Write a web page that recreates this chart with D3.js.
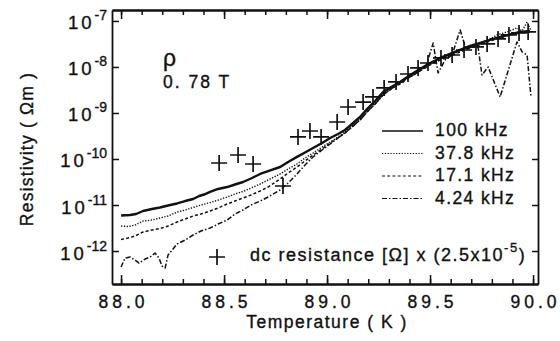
<!DOCTYPE html>
<html><head><meta charset="utf-8">
<script src="https://cdn.jsdelivr.net/npm/d3@7"></script>
<style>
body{margin:0;background:#fff}
svg{display:block}
text{font-family:"Liberation Sans",Arial,Helvetica,sans-serif;fill:#111;stroke:#111;stroke-width:0.35px}
</style>
</head><body>
<svg id="c" width="560" height="341"></svg>
<script>
// ---- data ----
const t100 = [88.000,88.044,88.073,88.107,88.150,88.189,88.228,88.272,88.311,88.350,88.379,88.403,88.432,88.471,88.515,88.553,88.592,88.631,88.675,88.714,88.772,88.811,88.854,88.893,88.932,88.976,89.015,89.053,89.087,89.121,89.160,89.194,89.233,89.272,89.311,89.354,89.403,89.451,89.500,89.549,89.597,89.646,89.694,89.743,89.791,89.840,89.888,89.937,89.985];
const r100 = [5.91e-12,6.06e-12,6.37e-12,7.41e-12,8.18e-12,8.83e-12,9.75e-12,1.08e-11,1.22e-11,1.35e-11,1.57e-11,1.69e-11,1.92e-11,2.23e-11,2.46e-11,2.79e-11,3.16e-11,3.77e-11,4.72e-11,5.48e-11,6.70e-11,8.61e-11,1.11e-10,1.38e-10,1.73e-10,2.23e-10,2.86e-10,3.50e-10,4.27e-10,5.77e-10,8.18e-10,1.22e-9,1.82e-9,2.86e-9,3.67e-9,4.72e-9,6.70e-9,9.05e-9,1.22e-8,1.57e-8,1.92e-8,2.34e-8,2.86e-8,3.32e-8,3.86e-8,4.49e-8,5.09e-8,5.77e-8,6.06e-8];

const t378 = [88.000,88.034,88.068,88.107,88.150,88.189,88.228,88.272,88.311,88.350,88.388,88.432,88.471,88.515,88.553,88.592,88.631,88.675,88.714,88.772,88.811,88.854,88.893,88.932,88.976,89.015,89.053,89.087,89.121,89.160,89.194,89.233,89.272,89.311,89.354,89.403,89.451,89.500,89.549,89.597,89.646,89.694,89.743,89.791,89.825,89.874,89.922,89.947,89.971,89.995];
const r378 = [3.50e-12,3.41e-12,3.67e-12,4.49e-12,4.72e-12,5.22e-12,5.77e-12,7.04e-12,7.79e-12,8.83e-12,1.00e-11,1.13e-11,1.28e-11,1.49e-11,1.73e-11,1.97e-11,2.34e-11,2.86e-11,3.50e-11,4.72e-11,6.06e-11,7.79e-11,1.05e-10,1.35e-10,1.82e-10,2.34e-10,3.01e-10,3.86e-10,5.22e-10,7.41e-10,1.11e-9,1.65e-9,2.59e-9,3.50e-9,4.49e-9,6.37e-9,8.61e-9,1.16e-8,1.49e-8,1.82e-8,2.23e-8,2.72e-8,3.32e-8,4.06e-8,4.96e-8,5.77e-8,7.04e-8,6.06e-8,9.51e-8,5.48e-8];

const t171 = [88.000,88.034,88.068,88.107,88.150,88.189,88.228,88.272,88.311,88.350,88.388,88.432,88.471,88.515,88.553,88.592,88.631,88.675,88.714,88.772,88.811,88.854,88.893,88.932,88.976,89.015,89.053,89.087,89.121,89.160,89.194,89.233,89.272,89.311,89.354,89.403,89.451,89.500,89.549,89.597,89.646,89.694,89.743,89.791,89.840,89.888,89.937,89.985];
const r171 = [1.78e-12,1.92e-12,2.12e-12,2.59e-12,2.86e-12,3.08e-12,3.50e-12,4.27e-12,4.96e-12,5.77e-12,6.37e-12,7.41e-12,8.61e-12,1.05e-11,1.22e-11,1.42e-11,1.65e-11,2.02e-11,2.46e-11,3.67e-11,4.96e-11,6.70e-11,9.05e-11,1.22e-10,1.65e-10,2.23e-10,2.86e-10,3.67e-10,4.96e-10,7.04e-10,1.05e-9,1.57e-9,2.46e-9,3.32e-9,4.27e-9,6.06e-9,8.18e-9,1.11e-8,1.42e-8,1.73e-8,2.12e-8,2.59e-8,3.01e-8,3.67e-8,4.27e-8,4.96e-8,5.48e-8,5.77e-8];

const t424 = [88.000,88.019,88.044,88.068,88.087,88.117,88.141,88.165,88.184,88.199,88.214,88.228,88.248,88.272,88.311,88.350,88.388,88.432,88.471,88.515,88.553,88.592,88.631,88.675,88.714,88.772,88.811,88.854,88.893,88.932,88.976,89.015,89.053,89.087,89.121,89.160,89.194,89.233,89.272,89.311,89.354,89.403,89.451,89.481,89.515,89.539,89.573,89.607,89.646,89.675,89.704,89.733,89.752,89.782,89.840,89.922,89.947,89.971,89.990];
const r424 = [4.49e-13,7.04e-13,7.41e-13,6.37e-13,5.48e-13,6.70e-13,7.41e-13,9.05e-13,7.04e-13,4.72e-13,4.27e-13,8.18e-13,1.05e-12,1.42e-12,1.73e-12,2.23e-12,2.72e-12,3.16e-12,3.86e-12,4.72e-12,6.37e-12,7.79e-12,1.00e-11,1.22e-11,1.49e-11,2.12e-11,3.01e-11,4.72e-11,7.41e-11,1.11e-10,1.57e-10,2.12e-10,2.86e-10,3.67e-10,4.96e-10,7.04e-10,1.05e-9,1.57e-9,2.46e-9,3.32e-9,4.49e-9,6.06e-9,8.18e-9,1.05e-8,3.32e-8,7.41e-9,1.42e-8,1.82e-8,6.37e-8,2.46e-8,2.72e-8,2.72e-8,6.70e-9,1.00e-8,2.23e-9,3.50e-8,2.12e-8,1.82e-8,2.23e-9];

// dc resistance x 2.5e-5 (plotted as resistivity)
const tDC = [88.476,88.568,88.641,88.786,88.859,88.917,88.971,89.049,89.102,89.175,89.223,89.277,89.335,89.393,89.442,89.490,89.553,89.607,89.665,89.723,89.777,89.830,89.883,89.932,89.976];
const rDC = [8.18e-11,1.22e-10,7.79e-11,2.59e-11,3.01e-10,4.06e-10,3.01e-10,6.37e-10,1.35e-9,1.73e-9,2.23e-9,3.50e-9,4.72e-9,7.04e-9,9.51e-9,1.22e-8,1.57e-8,1.82e-8,2.34e-8,2.72e-8,3.16e-8,4.06e-8,4.96e-8,5.48e-8,5.77e-8];

const seriesNames = ["100 kHz","37.8 kHz","17.1 kHz","4.24 kHz"];
const xTicksMajor = [88.0,88.5,89.0,89.5,90.0];
const xTicksMinor = d3.range(0,21).map(i => 88 + i*0.1);
const yTicks = [1e-12,1e-11,1e-10,1e-9,1e-8,1e-7];
const yTickExp = ["-12","-11","-10","-9","-8","-7"];

// ---- layout ----
const L = 112, R = 538, T = 10, B = 284;
const svg = d3.select("#c");
const x = d3.scaleLinear().domain([87.956, 90.024]).range([L, R]);
const y = d3.scaleLog().domain([1.92e-13, 1.73e-7]).range([B, T]);

const series = [
  {name: seriesNames[0], t: t100, r: r100, w: 2.4, dash: null},
  {name: seriesNames[1], t: t378, r: r378, w: 1.4, dash: "1.3,1.5"},
  {name: seriesNames[2], t: t171, r: r171, w: 1.5, dash: "3,2.2"},
  {name: seriesNames[3], t: t424, r: r424, w: 1.5, dash: "5,2,1.5,2"}
];

// axes
const axStyle = g => {
  g.select(".domain").attr("stroke","#111").attr("stroke-width",1.8);
  g.selectAll(".tick line").attr("stroke","#111").attr("stroke-width",1.5);
};
svg.append("g").attr("transform",`translate(0,${B})`)
  .call(d3.axisBottom(x).tickValues(xTicksMinor).tickSizeInner(-5).tickSizeOuter(0).tickFormat(""))
  .call(axStyle);
const gb = svg.append("g").attr("transform",`translate(0,${B})`)
  .call(d3.axisBottom(x).tickValues(xTicksMajor).tickSizeInner(-9).tickSizeOuter(0).tickPadding(12).tickFormat(d3.format(".1f")))
  .call(axStyle);
gb.selectAll(".tick text").attr("font-size",17.5).attr("letter-spacing","4px").attr("dx","2px")
  .style("font-family",'"Liberation Sans",Arial,sans-serif').attr("fill","#111");
svg.append("g").attr("transform",`translate(0,${T})`)
  .call(d3.axisTop(x).tickValues(xTicksMinor).tickSizeInner(-5).tickSizeOuter(0).tickFormat(""))
  .call(axStyle);
svg.append("g").attr("transform",`translate(0,${T})`)
  .call(d3.axisTop(x).tickValues(xTicksMajor).tickSizeInner(-9).tickSizeOuter(0).tickFormat(""))
  .call(axStyle);
const gl = svg.append("g").attr("transform",`translate(${L},0)`)
  .call(d3.axisLeft(y).tickValues(yTicks).tickSizeInner(-7).tickSizeOuter(0).tickFormat(""))
  .call(axStyle);
gl.selectAll(".tick").each(function(d,i){
  const t = d3.select(this).append("text").attr("x",-5).attr("y",8)
    .attr("text-anchor","end").attr("fill","#111")
    .style("font-family",'"Liberation Sans",Arial,sans-serif');
  t.append("tspan").attr("font-size",18.5).attr("letter-spacing","3px").text("10");
  t.append("tspan").attr("font-size",14).attr("dy",-9).text(yTickExp[i]);
});
svg.append("g").attr("transform",`translate(${R},0)`)
  .call(d3.axisRight(y).tickValues(yTicks).tickSizeInner(-6).tickSizeOuter(0).tickFormat(""))
  .call(axStyle);

// curves
const line = d3.line().x(d => x(d[0])).y(d => y(d[1]));
series.slice().reverse().forEach(s => {
  svg.append("path").datum(d3.zip(s.t, s.r))
    .attr("d", line).attr("fill","none").attr("stroke","#111")
    .attr("stroke-width", s.w).attr("stroke-linejoin","round")
    .attr("stroke-dasharray", s.dash);
});

// dc pluses
const plus = "M-8,0H8M0,-8V8";
svg.append("g").selectAll("path").data(d3.zip(tDC, rDC)).join("path")
  .attr("transform", d => `translate(${x(d[0])},${y(d[1])})`)
  .attr("d", plus).attr("stroke","#111").attr("stroke-width",1.7).attr("fill","none");

// annotations
svg.append("text").attr("x",163).attr("y",66).attr("font-size",23).text("ρ");
svg.append("text").attr("x",163).attr("y",88).attr("font-size",17.5).attr("letter-spacing","2px").text("0. 78 T");

// legend
const lg = svg.append("g");
series.forEach((s,i) => {
  const yy = 131 + i*22.5;
  lg.append("line").attr("x1",382).attr("x2",423).attr("y1",yy).attr("y2",yy)
    .attr("stroke","#111").attr("stroke-width", i===0 ? 1.6 : 1.2).attr("stroke-dasharray", s.dash);
  lg.append("text").attr("x",435).attr("y",yy+5).attr("font-size",17.5).attr("letter-spacing","1.4px").text(s.name);
});
lg.append("path").attr("transform","translate(217,257)").attr("d",plus)
  .attr("stroke","#111").attr("stroke-width",1.7);
const dct = lg.append("text").attr("x",250).attr("y",261).attr("font-size",18).attr("letter-spacing","1.5px");
dct.append("tspan").text("dc resistance [Ω] x (2.5x10");
dct.append("tspan").attr("font-size",13).attr("dy",-9).text("-5");
dct.append("tspan").attr("dy",9).text(")");

// axis titles
svg.append("text").attr("x",327).attr("y",328).attr("text-anchor","middle")
  .attr("font-size",17.5).attr("letter-spacing","1.5px").text("Temperature ( K )");
svg.append("text").attr("transform","translate(33,149) rotate(-90)").attr("text-anchor","middle")
  .attr("font-size",17.5).attr("letter-spacing","1.2px").text("Resistivity ( Ωm )");
</script>
</body></html>
